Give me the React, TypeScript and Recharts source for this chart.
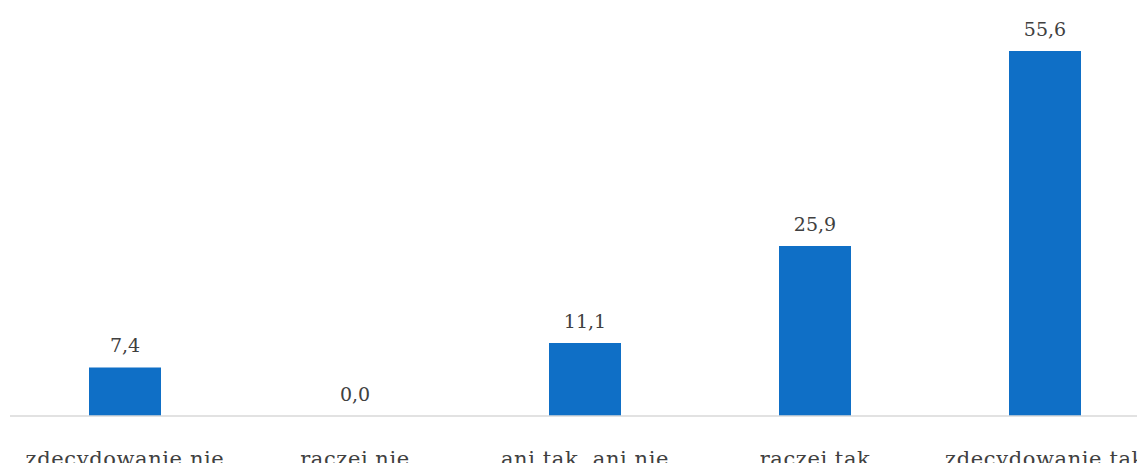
import { ComposedChart, Bar, Line, XAxis, YAxis, LabelList } from 'recharts';

const categories = ['zdecydowanie nie', 'raczej nie', 'ani tak, ani nie', 'raczej tak', 'zdecydowanie tak'];
const values = [7.4, 0.0, 11.1, 25.9, 55.6];

const data = categories.map((name, i) => ({ name, value: values[i] }));

const FONT = '"DejaVu Serif", "Liberation Serif", serif';
const TEXT = '#404040';

const fmt = (v: any) => Number(v).toFixed(1).replace('.', ',');

const CategoryTick = ({ x, y, payload }: any) => (
  <text
    x={x}
    y={y + 42}
    textAnchor="middle"
    fill={TEXT}
    fontSize={21}
    letterSpacing={0.6}
    fontFamily={FONT}
  >
    {payload.value}
  </text>
);

// labels hang off an invisible line, so the 0,0 one is drawn too
const ValueLabel = (props: any) => {
  const { x, y, value } = props;
  return (
    <text x={x} y={Number(y) - 15} textAnchor="middle" fill={TEXT} fontSize={19} fontFamily={FONT}>
      {fmt(value)}
    </text>
  );
};

export default function App() {
  return (
    <div style={{ width: 1152, height: 455, background: '#fff' }}>
      <ComposedChart
        width={1152}
        height={455}
        data={data}
        margin={{ top: 14, right: 0, bottom: 0, left: 2 }}
        barSize={72}
      >
        <XAxis
          dataKey="name"
          axisLine={{ stroke: '#d9d9d9', strokeWidth: 1.5 }}
          tickLine={false}
          tick={<CategoryTick />}
          height={47}
          interval={0}
        />
        <YAxis hide domain={[0, 60]} />
        <Bar dataKey="value" fill="#0f6fc6" isAnimationActive={false} />
        <Line
          dataKey="value"
          stroke="none"
          dot={false}
          activeDot={false}
          isAnimationActive={false}
        >
          <LabelList dataKey="value" content={<ValueLabel />} />
        </Line>
      </ComposedChart>
    </div>
  );
}
